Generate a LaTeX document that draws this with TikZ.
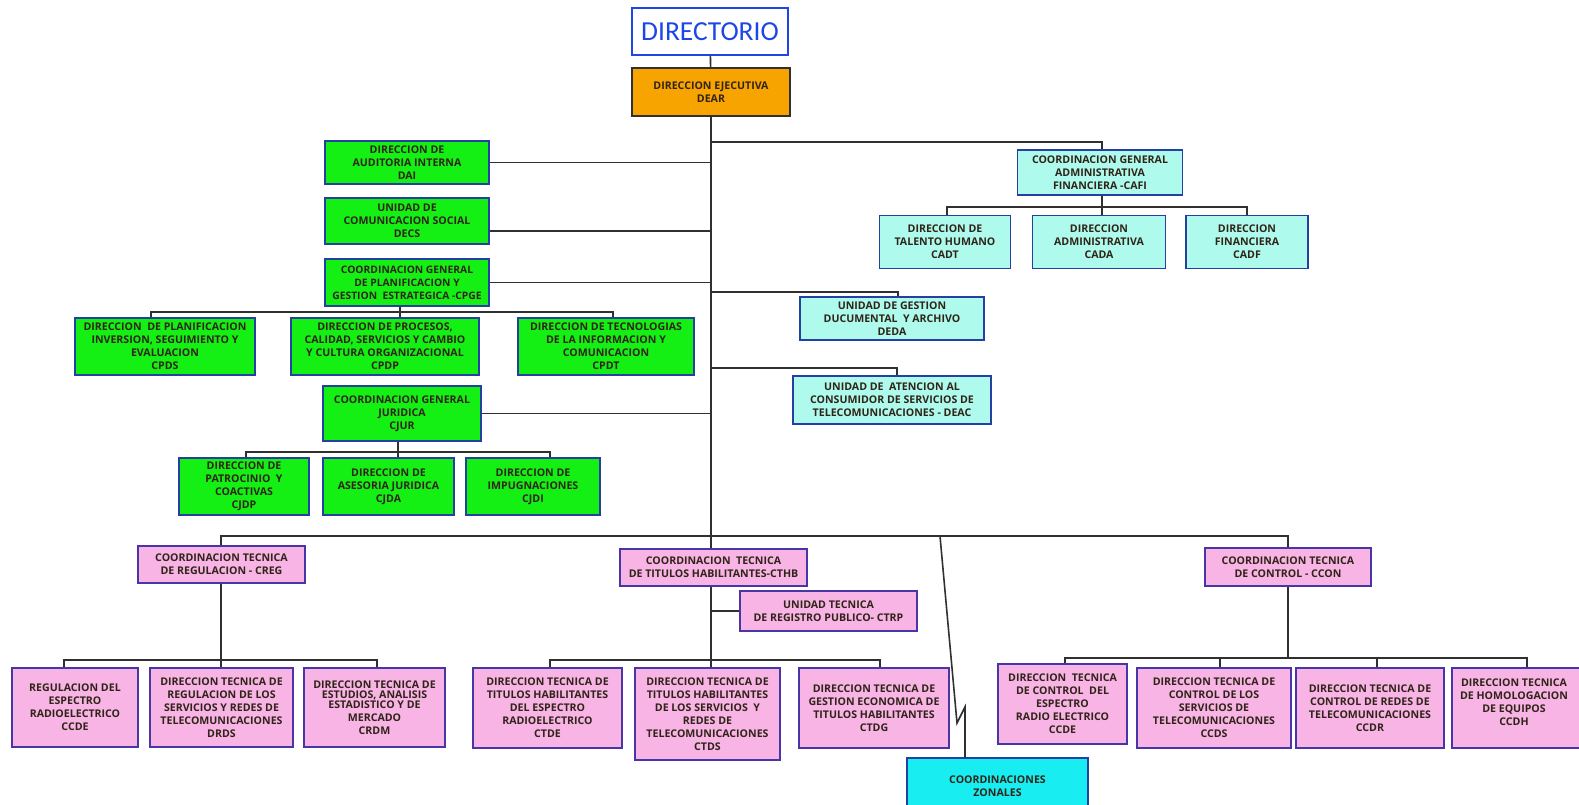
\documentclass[tikz,border=0pt]{standalone}
\usepackage{fontspec}
\setmainfont{Open Sans}
\newfontfamily\dirfont{Carlito}
\definecolor{grn}{HTML}{14F014}
\definecolor{cyl}{HTML}{AEFBEE}
\definecolor{cyz}{HTML}{18EEF2}
\definecolor{pnk}{HTML}{F8B4E4}
\definecolor{org}{HTML}{F8A400}
\definecolor{bordb}{HTML}{2440A0}
\definecolor{bordp}{HTML}{4836A8}
\definecolor{lin}{HTML}{303030}
\definecolor{txt}{HTML}{302418}
\definecolor{dirblue}{HTML}{1E46E6}
\begin{document}
\begin{tikzpicture}[x=1pt,y=-1pt,
  box/.style={draw=bordb, line width=1.4pt, inner sep=0pt, align=center, text=txt,
    font=\bfseries\fontsize{10.6}{13}\selectfont},
  gbox/.style={box, fill=grn},
  cbox/.style={box, fill=cyl},
  pbox/.style={box, fill=pnk, draw=bordp},
  zbox/.style={box, fill=cyz},
  conn/.style={draw=lin, line width=1.6pt}]
\useasboundingbox (0,0) rectangle (1579,805);
\fill[white] (0,0) rectangle (1579,805);

% top
\node[draw=dirblue, line width=1.3pt, fill=white, text=dirblue, font=\dirfont\fontsize{27.5}{29}\selectfont,
  minimum width=156pt, minimum height=47pt] (dir) at (710,31.5) {DIRECTORIO};
\node[box, fill=org, draw=lin, minimum width=158pt, minimum height=48pt] (dear) at (711,92) {DIRECCION EJECUTIVA\\DEAR};

% green
\node[gbox, minimum width=164pt, minimum height=43pt] (dai) at (407,162.5) {DIRECCION DE\\AUDITORIA INTERNA\\DAI};
\node[gbox, minimum width=164pt, minimum height=46pt] (decs) at (407,221) {UNIDAD DE\\COMUNICACION SOCIAL\\DECS};
\node[gbox, minimum width=164pt, minimum height=47pt, font=\bfseries\fontsize{10.3}{13}\selectfont] (cpge) at (407,282.5) {COORDINACION GENERAL\\DE PLANIFICACION Y\\GESTION \ ESTRATEGICA -CPGE};
\node[gbox, minimum width=180pt, minimum height=57pt] (cpds) at (165,346.5) {DIRECCION \ DE PLANIFICACION\\INVERSION, SEGUIMIENTO Y\\EVALUACION\\CPDS};
\node[gbox, minimum width=188pt, minimum height=57pt] (cpdp) at (385,346.5) {DIRECCION DE PROCESOS,\\CALIDAD, SERVICIOS Y CAMBIO\\Y CULTURA ORGANIZACIONAL\\CPDP};
\node[gbox, minimum width=176pt, minimum height=57pt] (cpdt) at (606,346.5) {DIRECCION DE TECNOLOGIAS\\DE LA INFORMACION Y\\COMUNICACION\\CPDT};
\node[gbox, minimum width=158pt, minimum height=55pt] (cjur) at (402,413.5) {COORDINACION GENERAL\\JURIDICA\\CJUR};
\node[gbox, minimum width=130pt, minimum height=57pt] (cjdp) at (244,486.5) {DIRECCION DE\\PATROCINIO \ Y\\COACTIVAS\\CJDP};
\node[gbox, minimum width=131pt, minimum height=57pt] (cjda) at (388.5,486.5) {DIRECCION DE\\ASESORIA JURIDICA\\CJDA};
\node[gbox, minimum width=134pt, minimum height=57pt] (cjdi) at (533,486.5) {DIRECCION DE\\IMPUGNACIONES\\CJDI};

% light cyan
\node[cbox, minimum width=165pt, minimum height=45pt] (cafi) at (1100,172.5) {COORDINACION GENERAL\\ADMINISTRATIVA\\FINANCIERA -CAFI};
\node[cbox, minimum width=131pt, minimum height=53pt] (cadt) at (945,242) {DIRECCION DE\\TALENTO HUMANO\\CADT};
\node[cbox, minimum width=133pt, minimum height=53pt] (cada) at (1099,242) {DIRECCION\\ADMINISTRATIVA\\CADA};
\node[cbox, minimum width=122pt, minimum height=53pt] (cadf) at (1247,242) {DIRECCION\\FINANCIERA\\CADF};
\node[cbox, minimum width=184pt, minimum height=43pt] (deda) at (892,318.5) {UNIDAD DE GESTION\\DUCUMENTAL \ Y ARCHIVO\\DEDA};
\node[cbox, minimum width=198pt, minimum height=48pt] (deac) at (892,400) {UNIDAD DE \ ATENCION AL\\CONSUMIDOR DE SERVICIOS DE\\TELECOMUNICACIONES - DEAC};

% pink
\node[pbox, minimum width=167pt, minimum height=37pt] (creg) at (221.5,564.5) {COORDINACION TECNICA\\DE REGULACION - CREG};
\node[pbox, minimum width=187pt, minimum height=37pt] (cthb) at (713.5,567.5) {COORDINACION \ TECNICA\\DE TITULOS HABILITANTES-CTHB};
\node[pbox, minimum width=177pt, minimum height=40pt] (ctrp) at (828.5,611) {UNIDAD TECNICA\\DE REGISTRO PUBLICO- CTRP};
\node[pbox, minimum width=166pt, minimum height=38pt] (ccon) at (1288,567) {COORDINACION TECNICA\\DE CONTROL - CCON};
\node[pbox, minimum width=126pt, minimum height=79pt] (ccder) at (75,707.5) {REGULACION DEL\\ESPECTRO\\RADIOELECTRICO\\CCDE};
\node[pbox, minimum width=143pt, minimum height=79pt] (drds) at (221.5,707.5) {DIRECCION TECNICA DE\\REGULACION DE LOS\\SERVICIOS Y REDES DE\\TELECOMUNICACIONES\\DRDS};
\node[pbox, minimum width=141pt, minimum height=79pt] (crdm) at (374.5,707.5) {DIRECCION TECNICA DE\\[-3pt]ESTUDIOS, ANALISIS\\[-3pt]ESTADISTICO Y DE\\MERCADO\\CRDM};
\node[pbox, minimum width=149pt, minimum height=80pt] (ctde) at (547.5,708) {DIRECCION TECNICA DE\\TITULOS HABILITANTES\\DEL ESPECTRO\\RADIOELECTRICO\\CTDE};
\node[pbox, minimum width=145pt, minimum height=92pt] (ctds) at (707.5,714) {DIRECCION TECNICA DE\\TITULOS HABILITANTES\\DE LOS SERVICIOS \ Y\\REDES DE\\TELECOMUNICACIONES\\CTDS};
\node[pbox, minimum width=150pt, minimum height=80pt] (ctdg) at (874,708) {DIRECCION TECNICA DE\\GESTION ECONOMICA DE\\TITULOS HABILITANTES\\CTDG};
\node[pbox, minimum width=129pt, minimum height=80pt] (ccde) at (1062.5,704) {DIRECCION \ TECNICA\\DE CONTROL \ DEL\\ESPECTRO\\RADIO ELECTRICO\\CCDE};
\node[pbox, minimum width=154pt, minimum height=80pt] (ccds) at (1214,708) {DIRECCION TECNICA DE\\CONTROL DE LOS\\SERVICIOS DE\\TELECOMUNICACIONES\\CCDS};
\node[pbox, minimum width=148pt, minimum height=80pt] (ccdr) at (1370,708) {DIRECCION TECNICA DE\\CONTROL DE REDES DE\\TELECOMUNICACIONES\\CCDR};
\node[pbox, minimum width=148pt, minimum height=80pt] (ccdhbox) at (1526,708) {};
\node[align=center, text=txt, inner sep=0pt, font=\bfseries\fontsize{10.6}{13}\selectfont] (ccdh) at (1514,702) {DIRECCION TECNICA\\DE HOMOLOGACION\\DE EQUIPOS\\CCDH};

% zonales
\node[zbox, minimum width=181pt, minimum height=56pt] (zonas) at (997.5,786) {COORDINACIONES\\ZONALES};

% connectors
\coordinate (bus) at (711,536);
\draw[conn] (dir) -- (dear);
\draw[conn] (dear.south) -- (bus);
\draw[conn] (dai.east) -- (dai.east -| dear.south);
\draw[conn] ([yshift=-10pt]decs.east) -- ([yshift=-10pt]decs.east -| dear.south);
\draw[conn] (cpge.east) -- (cpge.east -| dear.south);
\draw[conn] (cjur.east) -- (cjur.east -| dear.south);

\coordinate (pg1) at (151,312); \coordinate (pg2) at (613,312); \coordinate (pgc) at (400,312);
\draw[conn] (pg1 |- cpds.north) -- (pg1) -- (pg2) -- (pg2 |- cpdt.north);
\draw[conn] (pgc |- cpge.south) -- (pgc |- cpdp.north);

\coordinate (jc1) at (246,452); \coordinate (jc2) at (550,452); \coordinate (jcc) at (398,452);
\draw[conn] (jc1 |- cjdp.north) -- (jc1) -- (jc2) -- (jc2 |- cjdi.north);
\draw[conn] (jcc |- cjur.south) -- (jcc |- cjda.north);

\coordinate (cf) at (1102,142);
\draw[conn] (cf -| dear.south) -- (cf) -- (cf |- cafi.north);
\coordinate (af1) at (947,207); \coordinate (af2) at (1247,207); \coordinate (afc) at (1102,207);
\draw[conn] (af1 |- cadt.north) -- (af1) -- (af2) -- (af2 |- cadf.north);
\draw[conn] (afc |- cafi.south) -- (afc |- cada.north);

\coordinate (dd) at (898,292);
\draw[conn] (dd -| dear.south) -- (dd) -- (dd |- deda.north);
\coordinate (dc) at (897,368);
\draw[conn] (dc -| dear.south) -- (dc) -- (dc |- deac.north);

\coordinate (bl) at (221,536); \coordinate (br) at (1288,536);
\draw[conn] (bl |- creg.north) -- (bl) -- (br) -- (br |- ccon.north);
\draw[conn] (bus) -- (bus |- cthb.north);

\coordinate (rg1) at (64,660); \coordinate (rg2) at (377,660); \coordinate (rgc) at (221,660);
\draw[conn] (rg1 |- ccder.north) -- (rg1) -- (rg2) -- (rg2 |- crdm.north);
\draw[conn] (rgc |- creg.south) -- (rgc |- drds.north);

\coordinate (th1) at (550,660); \coordinate (th2) at (880,660); \coordinate (thc) at (711,660);
\draw[conn] (th1 |- ctde.north) -- (th1) -- (th2) -- (th2 |- ctdg.north);
\draw[conn] (thc |- cthb.south) -- (thc |- ctds.north);
\draw[conn] (ctrp.west -| thc) -- (ctrp.west);

\coordinate (cn1) at (1065,658); \coordinate (cn2) at (1220,658); \coordinate (cn3) at (1377,658);
\coordinate (cn4) at (1527,658); \coordinate (cnc) at (1288,658);
\draw[conn] (cn1 |- ccde.north) -- (cn1) -- (cn4) -- (cn4 |- ccdhbox.north);
\draw[conn] (cn2) -- (cn2 |- ccds.north);
\draw[conn] (cn3) -- (cn3 |- ccdr.north);
\draw[conn] (cnc |- ccon.south) -- (cnc);

\coordinate (zz) at (940,536); \coordinate (zk) at (965,707);
\draw[conn] (zz) -- (957,723) -- (zk) -- (zk |- zonas.north);
\end{tikzpicture}
\end{document}
